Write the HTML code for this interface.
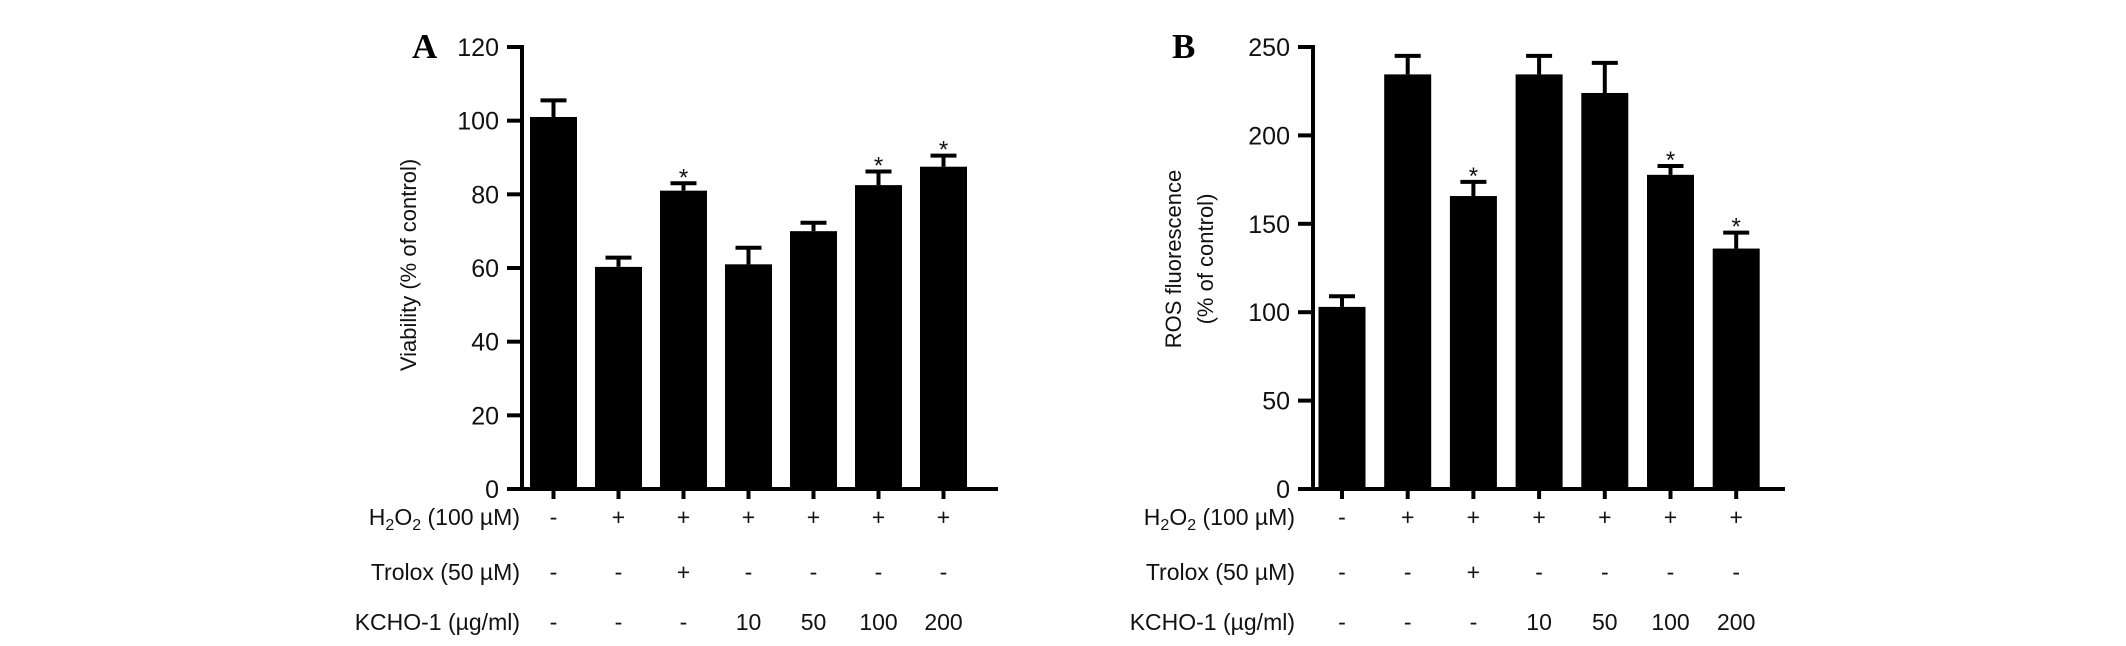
<!DOCTYPE html>
<html><head><meta charset="utf-8"><style>
body{margin:0;background:#fff}
svg{display:block;font-family:"Liberation Sans",Arial,sans-serif}
</style></head><body>
<svg id="svg" width="2126" height="646" viewBox="0 0 2126 646" xmlns="http://www.w3.org/2000/svg"></svg>
<script>
const categoriesA = ["ctrl","H2O2","H2O2+Trolox","KCHO-10","KCHO-50","KCHO-100","KCHO-200"];
const valuesA = [101, 60.3, 81, 61, 70, 82.5, 87.5];
const errorsA = [4.5, 2.5, 2, 4.5, 2.3, 3.7, 3];
const starsA = [false,false,true,false,false,true,true];
const ticksA = [0,20,40,60,80,100,120];
const valuesB = [103, 234.5, 165.7, 234.5, 224, 177.7, 136];
const errorsB = [6, 10.5, 8, 10.5, 17, 5, 9];
const starsB = [false,false,true,false,false,true,true];
const ticksB = [0,50,100,150,200,250];
const rowH2O2 = ["-","+","+","+","+","+","+"];
const rowTrolox = ["-","-","+","-","-","-","-"];
const rowKCHO = ["-","-","-","10","50","100","200"];

const svg = document.getElementById('svg');
const NS = 'http://www.w3.org/2000/svg';
function mk(tag, attrs, text){const e=document.createElementNS(NS,tag);for(const k in attrs)e.setAttribute(k,attrs[k]);if(text!==undefined)e.textContent=text;svg.appendChild(e);return e;}

function chart(p){
  const y0=489, yTop=47;
  const ys=v=>y0-(v/p.max)*(y0-yTop);
  const xc=i=>p.first+i*p.step;
  let e=mk('line',{x1:p.ax,y1:yTop-2,x2:p.ax,y2:y0+2,stroke:'#000','stroke-width':4});
  
  
  e=mk('line',{x1:p.ax-15,y1:y0,x2:p.xend,y2:y0,stroke:'#000','stroke-width':4});
  
  
  p.ticks.forEach(t=>{
    let l=mk('line',{x1:p.ax-15,y1:ys(t),x2:p.ax,y2:ys(t),stroke:'#000','stroke-width':4});
    
    
    let tx=mk('text',{x:p.ax-23,y:ys(t)+9,'text-anchor':'end','font-size':25,fill:'#111'},String(t));
    
    
  });
  p.values.forEach((v,i)=>{
    const x=xc(i), w=47;
    let r=mk('rect',{x:x-w/2,y:ys(v),width:w,height:y0-ys(v),fill:'#000'});
    
    
    const ye=ys(v+p.errors[i]);
    let eb=mk('path',{d:`M${x} ${ys(v)} V${ye} M${x-13} ${ye} H${x+13}`,stroke:'#000','stroke-width':4,fill:'none'});
    
    
    let tk=mk('line',{x1:x,y1:y0,x2:x,y2:y0+10,stroke:'#000','stroke-width':4});
    
    
    if(p.stars[i]){
      let s=mk('text',{x:x,y:ye+2,'text-anchor':'middle','font-size':24,fill:'#111'},'*');
      
      
    }
    [[rowH2O2,525],[rowTrolox,580],[rowKCHO,630]].forEach(([row,yy])=>{
      let t=mk('text',{x:x,y:yy,'text-anchor':'middle','font-size':23,fill:'#111'},row[i]);
      
      
    });
  });
  let h=mk('text',{x:p.lab,y:525,'text-anchor':'end','font-size':23,fill:'#111'});
  h.innerHTML='H<tspan font-size="16" dy="5">2</tspan><tspan dy="-5">O</tspan><tspan font-size="16" dy="5">2</tspan><tspan dy="-5"> (100  µM)</tspan>';
  
  
  let t=mk('text',{x:p.lab,y:580,'text-anchor':'end','font-size':23,fill:'#111'},'Trolox  (50  µM)');
  
  
  t=mk('text',{x:p.lab,y:630,'text-anchor':'end','font-size':23,fill:'#111'},'KCHO-1 (µg/ml)');
  
  
  t=mk('text',{x:p.letterX,y:58,'font-size':35,'font-weight':'bold','font-family':'Liberation Serif,serif',fill:'#000'},p.letter);
  
  
  p.titles.forEach(([txt,x])=>{
    let tt=mk('text',{x:x,y:p.tcy,'text-anchor':'middle','font-size':22,fill:'#111',transform:`rotate(-90 ${x} ${p.tcy})`},txt);
    
    
  });
}
chart({id:'chart-a',ax:522,xend:998,first:553.5,step:65,max:120,values:valuesA,errors:errorsA,stars:starsA,ticks:ticksA,lab:520,letter:'A',letterX:412,titles:[['Viability (% of control)',416]],tcy:265});
chart({id:'chart-b',ax:1313,xend:1785,first:1342,step:65.7,max:250,values:valuesB,errors:errorsB,stars:starsB,ticks:ticksB,lab:1295,letter:'B',letterX:1172,titles:[['ROS fluorescence',1181],['(% of control)',1213]],tcy:259});
</script>
</body></html>
